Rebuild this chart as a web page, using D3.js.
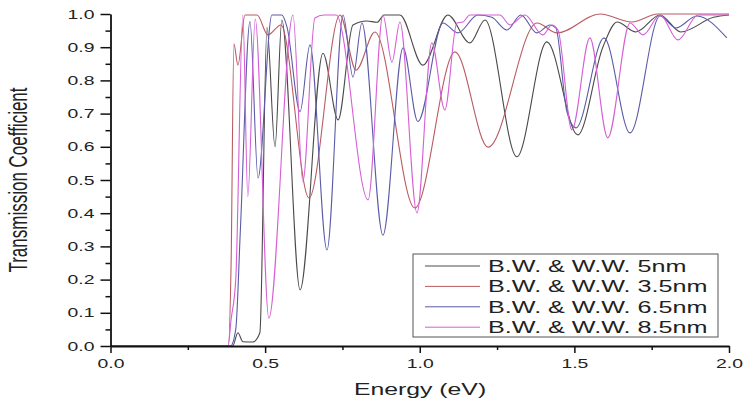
<!DOCTYPE html>
<html>
<head>
<meta charset="utf-8">
<script src="https://cdn.jsdelivr.net/npm/d3@7"></script>
<style>
  body { margin: 0; background: #fff; }
  svg { display: block; }
  text { font-family: "Liberation Sans", Arial, sans-serif; fill: #222; }
</style>
</head>
<body>
<div id="chart"></div>
<script>
// Axis ticks
const energyTicks = [0.0, 0.5, 1.0, 1.5, 2.0];
const energyMinor = [0.25, 0.75, 1.25, 1.75];
const transTicks = [0.0, 0.1, 0.2, 0.3, 0.4, 0.5, 0.6, 0.7, 0.8, 0.9, 1.0];
const transMinor = [0.05, 0.15, 0.25, 0.35, 0.45, 0.55, 0.65, 0.75, 0.85, 0.95];

// Series names (legend order)
const seriesNames = ["B.W. & W.W. 5nm", "B.W. & W.W. 3.5nm", "B.W. & W.W. 6.5nm", "B.W. & W.W. 8.5nm"];
const seriesColors = ["#4a4a4a", "#b95c62", "#5b5ba8", "#d65ed6"];

// [energy (eV), transmission]
const t5nm = [[0,0],[0.395,0],[0.412,0.04],[0.428,0.013],[0.460,0.012],[0.483,0.04],[0.506,0.96],[0.532,0.60],[0.554,0.982],
  [0.613,0.169],[0.687,0.882],[0.736,0.681],[0.784,0.967],[0.829,0.979],[0.862,0.975],[0.885,0.997],[0.936,0.997],
  [1.010,0.846],[1.091,0.997],[1.162,0.913],[1.211,0.982],[1.314,0.570],[1.411,0.916],[1.511,0.636],[1.592,0.90],
  [1.638,0.976],[1.699,0.946],[1.777,0.997],[1.844,0.946],[1.950,0.99],[2.0,0.997]];

const t35nm = [[0,0],[0.381,0],[0.390,0.25],[0.399,0.91],[0.412,0.846],[0.435,0.997],[0.474,0.997],[0.509,0.937],
  [0.551,0.967],[0.642,0.446],[0.742,0.997],[0.794,0.831],[0.855,0.946],[0.984,0.416],[1.114,0.886],[1.221,0.599],
  [1.379,0.973],[1.444,0.943],[1.583,1.0],[1.686,0.976],[1.770,1.0],[2.0,1.0]];

const t65nm = [[0,0],[0.388,0],[0.405,0.05],[0.420,0.35],[0.451,0.977],[0.477,0.506],[0.522,0.997],[0.554,0.997],
  [0.571,0.96],[0.613,0.706],[0.645,0.907],[0.700,0.289],[0.752,0.997],[0.784,0.810],[0.813,0.973],[0.881,0.334],
  [0.946,0.898],[0.994,0.676],[1.075,0.973],[1.123,0.943],[1.188,0.997],[1.233,0.99],[1.282,0.952],[1.327,0.997],
  [1.379,0.943],[1.421,0.967],[1.440,0.958],[1.476,0.705],[1.505,0.657],[1.596,0.928],[1.680,0.642],[1.777,0.994],
  [1.828,0.958],[1.896,0.994],[1.993,0.928]];

const t85nm = [[0,0],[0.380,0],[0.390,0.08],[0.405,0.2],[0.428,0.997],[0.444,0.45],[0.468,0.985],[0.512,0.084],
  [0.590,0.997],[0.622,0.495],[0.661,0.988],[0.690,0.997],[0.730,0.997],[0.833,0.44],[0.881,0.997],[0.910,0.855],
  [0.936,0.976],[0.991,0.401],[1.039,0.913],[1.081,0.711],[1.120,0.973],[1.140,0.976],[1.162,0.997],[1.259,0.997],
  [1.292,0.967],[1.340,0.997],[1.398,0.937],[1.427,0.967],[1.447,0.952],[1.492,0.651],[1.550,0.928],[1.608,0.627],
  [1.680,0.973],[1.722,0.937],[1.777,0.997],[1.835,0.922],[1.900,0.997],[2.0,0.997]];

const allSeries = [t5nm, t35nm, t65nm, t85nm];

// Dimensions
const width = 755;
const height = 402;
const margin = {left: 110.5, right: 26, top: 14, bottom: 56};
const stretch = 1.55; // text in the picture is wide

let svg = d3.select("#chart")
  .append("svg")
  .attr("width", width)
  .attr("height", height);

svg.append("rect").attr("width", width).attr("height", height).attr("fill", "#fff");

let xScale = d3.scaleLinear().domain([0, 2]).range([margin.left, width - margin.right]);
let yScale = d3.scaleLinear().domain([0, 1]).range([height - margin.bottom, margin.top]);

// Lines
const line = d3.line()
  .x(d => xScale(d[0]))
  .y(d => yScale(d[1]))
  .curve(d3.curveMonotoneX);

svg.selectAll(".series")
  .data(allSeries)
  .enter()
  .append("path")
    .attr("class", "series")
    .attr("d", d => line(d))
    .attr("fill", "none")
    .attr("stroke", (d, i) => seriesColors[i])
    .attr("stroke-width", 1.1);

// y axis minor + major
svg.append("g")
  .attr("transform", `translate(${margin.left},0)`)
  .call(d3.axisLeft(yScale).tickValues(transMinor).tickSize(5).tickSizeOuter(0).tickFormat(""))
  .call(g => g.select(".domain").remove())
  .selectAll("line").attr("stroke", "#111").attr("stroke-width", 1.5);

let yAxis = svg.append("g")
  .attr("transform", `translate(${margin.left},0)`)
  .call(d3.axisLeft(yScale).tickValues(transTicks).tickSize(10).tickSizeOuter(0).tickFormat(d3.format(".1f")));
yAxis.select(".domain").attr("stroke", "#111").attr("stroke-width", 1.8);
yAxis.selectAll("line").attr("stroke", "#111").attr("stroke-width", 1.5);
yAxis.selectAll("text")
  .attr("x", -16 / stretch)
  .attr("transform", `scale(${stretch},1)`)
  .attr("font-size", "12.5px")
  .attr("fill", "#222");

// x axis minor + major
svg.append("g")
  .attr("transform", `translate(0,${height - margin.bottom})`)
  .call(d3.axisBottom(xScale).tickValues(energyMinor).tickSize(4).tickSizeOuter(0).tickFormat(""))
  .call(g => g.select(".domain").remove())
  .selectAll("line").attr("stroke", "#111").attr("stroke-width", 1.5);

let xAxis = svg.append("g")
  .attr("transform", `translate(0,${height - margin.bottom})`)
  .call(d3.axisBottom(xScale).tickValues(energyTicks).tickSize(7).tickSizeOuter(0).tickFormat(d3.format(".1f")));
xAxis.select(".domain").attr("stroke", "#111").attr("stroke-width", 1.8);
xAxis.selectAll("line").attr("stroke", "#111").attr("stroke-width", 1.5);
xAxis.selectAll("text")
  .attr("y", 13)
  .attr("transform", `scale(${stretch},1)`)
  .attr("font-size", "12.5px")
  .attr("fill", "#222");

// Axis titles
svg.append("text")
  .attr("transform", `translate(420,395) scale(${stretch},1)`)
  .attr("text-anchor", "middle")
  .attr("font-size", "16px")
  .text("Energy (eV)");

svg.append("text")
  .attr("transform", `translate(27,180) rotate(-90) scale(1,1.5)`)
  .attr("text-anchor", "middle")
  .attr("font-size", "17px")
  .text("Transmission Coefficient");

// Legend
let legend = svg.append("g");
legend.append("rect")
  .attr("x", 413).attr("y", 254)
  .attr("width", 305).attr("height", 83)
  .attr("fill", "#fff")
  .attr("stroke", "#555")
  .attr("stroke-width", 1);

seriesNames.forEach(function(name, i) {
  let yRow = 266 + i * 20.4;
  legend.append("line")
    .attr("x1", 425).attr("x2", 480)
    .attr("y1", yRow).attr("y2", yRow)
    .attr("stroke", seriesColors[i])
    .attr("stroke-width", 1);
  legend.append("text")
    .attr("transform", `translate(488,${yRow + 6}) scale(1.48,1)`)
    .attr("font-size", "17px")
    .attr("fill", "#111")
    .text(name);
});
</script>
</body>
</html>
